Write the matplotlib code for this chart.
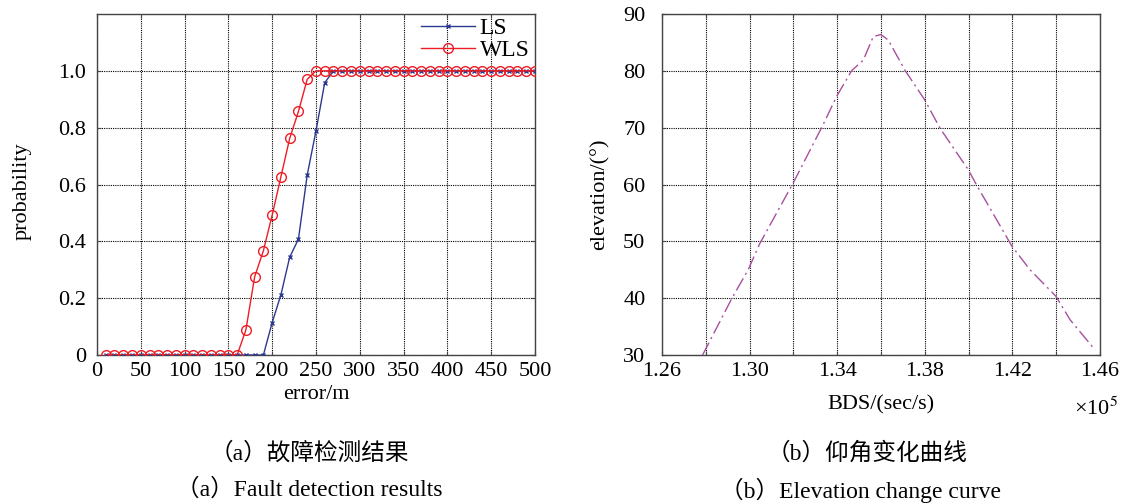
import matplotlib
matplotlib.use('Agg')
import matplotlib.pyplot as plt
import numpy as np

plt.rcParams['font.family'] = ['Liberation Serif', 'Noto Sans CJK SC']
plt.rcParams['mathtext.fontset'] = 'stix'

# (a) fault detection probability vs. error
error_m = list(range(10, 510, 10))
ls_prob = [0.0] * 19 + [0.114, 0.212, 0.344, 0.408, 0.633, 0.788, 0.958] + [1.0] * 24
wls_prob = [0.0] * 16 + [0.088, 0.275, 0.367, 0.492, 0.627, 0.762, 0.857, 0.970] + [1.0] * 26

# (b) elevation vs BDS time (x in units of 1e5 s)
bds_time = [1.2785, 1.2917, 1.2993, 1.3046, 1.3199, 1.3331, 1.3397, 1.3465,
            1.3519, 1.3564, 1.3599, 1.3633, 1.3709, 1.3799, 1.3869, 1.3998,
            1.4036, 1.4198, 1.4280, 1.4399, 1.4463, 1.4577]
elevation = [30.0, 39.85, 45.0, 49.6, 60.3, 70.2, 75.5, 80.0,
             81.9, 86.0, 86.4, 85.4, 80.1, 74.9, 69.9, 62.6,
             59.9, 49.1, 45.0, 40.3, 36.2, 30.9]

x_ticks_a = list(range(0, 501, 50))
y_ticks_a = [0, 0.2, 0.4, 0.6, 0.8, 1.0]
y_labels_a = ['0', '0.2', '0.4', '0.6', '0.8', '1.0']
x_ticks_b = [1.26, 1.28, 1.30, 1.32, 1.34, 1.36, 1.38, 1.40, 1.42, 1.44, 1.46]
x_labels_b = ['1.26', '', '1.30', '', '1.34', '', '1.38', '', '1.42', '', '1.46']
y_ticks_b = list(range(30, 91, 10))

FS = 16


def style_axes(ax, ypad):
    ax.grid(True, color='black', linestyle=(0, (1, 1)), linewidth=0.8)
    ax.tick_params(direction='in', length=3, top=True, right=True,
                   labelsize=FS, color='#444444')
    ax.tick_params(axis='x', pad=5)
    ax.tick_params(axis='y', pad=ypad)
    for s in ax.spines.values():
        s.set_color('#444444')
        s.set_linewidth(1.0)


def main():
    fig = plt.figure(figsize=(11.26, 5.03), dpi=100)
    ax1 = fig.add_axes([0.0861, 0.2942, 0.389, 0.678])
    ax2 = fig.add_axes([0.588, 0.2942, 0.389, 0.678])

    ax1.plot(error_m, ls_prob, color='#2B3990', marker='x', markersize=3.5,
             markeredgewidth=1.0, linewidth=1.0, label='LS', zorder=3)
    ax1.plot(error_m, wls_prob, color='#EE1C24', marker='o', markersize=7,
             markerfacecolor='none', markeredgewidth=1.0, linewidth=1.0,
             label='WLS', zorder=3)
    ax1.set_xlim(0, 500)
    ax1.set_ylim(0, 1.2)
    ax1.set_xticks(x_ticks_a)
    ax1.set_yticks(y_ticks_a)
    ax1.set_yticklabels(y_labels_a)
    ax1.set_xlabel('error/m', fontsize=FS, va='center')
    ax1.xaxis.set_label_coords(0.5, -0.117)
    ax1.set_ylabel('probability', fontsize=FS, va='center')
    ax1.yaxis.set_label_coords(-0.171, 0.48)
    style_axes(ax1, 8)
    leg = ax1.legend(loc='upper right', bbox_to_anchor=(1.02, 1.03), frameon=False,
                     fontsize=FS + 1, handlelength=2.3, handletextpad=0.2,
                     labelspacing=0.0, borderaxespad=0.2)
    leg.set_zorder(5)

    ax2.plot(bds_time, elevation, color='#A8509E', linestyle=(0, (10, 3, 1.5, 3)),
             linewidth=1.0, zorder=3)
    ax2.set_xlim(1.26, 1.46)
    ax2.set_ylim(30, 90)
    ax2.set_xticks(x_ticks_b)
    ax2.set_xticklabels(x_labels_b)
    ax2.set_yticks(y_ticks_b)
    ax2.set_xlabel('BDS/(sec/s)', fontsize=FS, va='center')
    ax2.xaxis.set_label_coords(0.5, -0.147)
    ax2.set_ylabel('elevation/(°)', fontsize=FS, va='center')
    ax2.yaxis.set_label_coords(-0.1416, 0.47)
    style_axes(ax2, 12)
    fig.text(0.993, 0.188, '×10$^{5}$', fontsize=FS, ha='right', va='center')

    # captions
    fig.text(0.275, 0.099, '（a）故障检测结果', fontsize=FS + 1, ha='center', va='center')
    fig.text(0.275, 0.026, '（a）Fault detection results', fontsize=FS + 1,
             ha='center', va='center')
    fig.text(0.770, 0.099, '（b）仰角变化曲线', fontsize=FS + 1, ha='center', va='center')
    fig.text(0.764, 0.026, '（b）Elevation change curve', fontsize=FS + 1,
             ha='center', va='center')

    fig.savefig('out.png', dpi=100)


if __name__ == '__main__':
    main()
